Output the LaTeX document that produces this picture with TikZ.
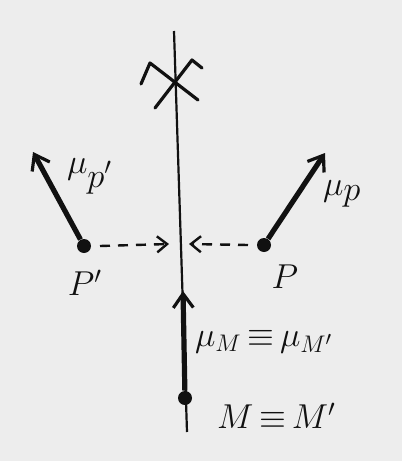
\documentclass[tikz,border=0pt]{standalone}
\usepackage{amsmath,amssymb}
\usetikzlibrary{arrows.meta,positioning}
\definecolor{paper}{HTML}{EDEDED}
\definecolor{ink}{HTML}{111111}

\begin{document}
\begin{tikzpicture}[x=0.5pt,y=-0.5pt,
    moment/.style={draw=ink,line width=2.6pt,-{Straight Barb[length=7pt,width=10pt,line width=1.6pt]}},
    probe/.style={draw=ink,line width=1.2pt,dash pattern=on 5pt off 4pt,-{Straight Barb[length=5pt,width=8pt,line width=1.2pt]}},
    dot/.style={circle,fill=ink,inner sep=0pt,minimum size=7pt},
    lbl/.style={font=\LARGE,color=ink}
]
\fill[paper] (0,0) rectangle (402,461);
\useasboundingbox (0,0) rectangle (402,461);
\coordinate (ltop) at (174,31);
\coordinate (lbot) at (187,432);
\draw[ink,line width=1.1pt] (ltop) -- (lbot);
\draw[ink,line width=1.6pt,line cap=round,line join=round] (141,84) -- (150,63) -- (198,100);
\draw[ink,line width=1.6pt,line cap=round,line join=round] (155,108) -- (192,60) -- (202,68);
\node[dot] (pl) at (84,246) {};
\node[dot] (pr) at (264,245) {};
\node[dot] (m) at (185,398) {};
\coordinate (mupl) at (33,152);
\coordinate (mupr) at (325,153);
\coordinate (mum) at (183,291);
\coordinate (hitl) at (169,244);
\coordinate (hitr) at (189,244);
\draw[moment] (pl) -- (mupl);
\draw[moment] (pr) -- (mupr);
\draw[moment] (m) -- (mum);
\draw[probe] ([xshift=8pt]pl.center) -- (hitl);
\draw[probe] ([xshift=-8pt]pr.center) -- (hitr);
\node[lbl,anchor=west] (tpl) at (60,176) {$\mu_{\textstyle p'}$};
\node[lbl,anchor=west] (tpr) at (316,194) {$\mu_{\textstyle p}$};
\node[lbl,anchor=west] (tm) at (188,342) {$\mu_{M}{\,\equiv\,}\mu_{M'}$};
\node[lbl] (npl) at (85,283) {$P'$};
\node[lbl] (npr) at (285,277) {$P$};
\node[lbl,anchor=west] (nm) at (210,416) {$M{\,\equiv\,}M'$};
\end{tikzpicture}
\end{document}
